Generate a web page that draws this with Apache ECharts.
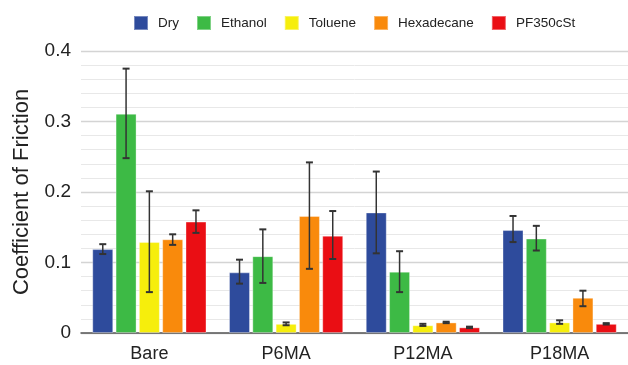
<!DOCTYPE html>
<html>
<head>
<meta charset="utf-8">
<script src="https://cdn.jsdelivr.net/npm/echarts@6/dist/echarts.min.js"></script>
<style>html,body{margin:0;padding:0;background:#fff}#c{width:628px;height:365px}</style>
</head>
<body>
<div id="c"></div>
<script>
const categories = ['Bare', 'P6MA', 'P12MA', 'P18MA'];
const seriesNames = ['Dry', 'Ethanol', 'Toluene', 'Hexadecane', 'PF350cSt'];
const colors = ['#2e4b9c', '#3dba45', '#f6ee0c', '#f98a0c', '#ea0e14'];

const dry        = [0.119, 0.086, 0.171, 0.146];
const ethanol    = [0.311, 0.109, 0.087, 0.134];
const toluene    = [0.129, 0.013, 0.011, 0.015];
const hexadecane = [0.133, 0.166, 0.015, 0.050];
const pf350      = [0.158, 0.138, 0.008, 0.013];

const dryLow        = [0.112, 0.070, 0.113, 0.129];
const dryHigh       = [0.126, 0.104, 0.229, 0.166];
const ethanolLow    = [0.248, 0.071, 0.058, 0.117];
const ethanolHigh   = [0.375, 0.147, 0.116, 0.152];
const tolueneLow    = [0.058, 0.011, 0.010, 0.013];
const tolueneHigh   = [0.201, 0.015, 0.013, 0.018];
const hexadecaneLow = [0.125, 0.091, 0.014, 0.038];
const hexadecaneHigh= [0.140, 0.242, 0.016, 0.060];
const pf350Low      = [0.142, 0.105, 0.007, 0.012];
const pf350High     = [0.174, 0.173, 0.009, 0.014];

const values = [dry, ethanol, toluene, hexadecane, pf350];
const lows = [dryLow, ethanolLow, tolueneLow, hexadecaneLow, pf350Low];
const highs = [dryHigh, ethanolHigh, tolueneHigh, hexadecaneHigh, pf350High];

const BAR_W = 21, PITCH = 23.3;
const font = 'Liberation Sans, Arial, sans-serif';

const errData = [];
values.forEach((v, s) => {
  categories.forEach((c, i) => errData.push([i, s, lows[s][i], highs[s][i]]));
});

const chart = echarts.init(document.getElementById('c'), null, {renderer: 'canvas'});
const series = seriesNames.map((n, s) => ({
  name: n, type: 'bar', data: values[s], barWidth: BAR_W, barGap: '11%',
  itemStyle: {color: colors[s], borderColor: 'rgba(255,255,255,0.35)', borderWidth: 1},
  emphasis: {disabled: true}
}));
series.push({
  type: 'custom', silent: true, z: 10,
  data: errData,
  encode: {x: 0, y: [2, 3]},
  renderItem: function (params, api) {
    const ci = api.value(0), si = api.value(1);
    const lo = api.coord([ci, api.value(2)]);
    const hi = api.coord([ci, api.value(3)]);
    const x = lo[0] + (si - 2) * PITCH;
    const cap = 3.5;
    const st = {stroke: '#333', lineWidth: 1.5};
    return {type: 'group', children: [
      {type: 'line', shape: {x1: x, y1: lo[1], x2: x, y2: hi[1]}, style: st},
      {type: 'line', shape: {x1: x - cap, y1: lo[1], x2: x + cap, y2: lo[1]}, style: {stroke: '#333', lineWidth: 2}},
      {type: 'line', shape: {x1: x - cap, y1: hi[1], x2: x + cap, y2: hi[1]}, style: {stroke: '#333', lineWidth: 2}}
    ]};
  }
});

chart.setOption({
  animation: false,
  textStyle: {fontFamily: font},
  legend: {
    data: seriesNames, left: 128, top: 10, icon: 'rect', itemWidth: 14, itemHeight: 14, itemGap: 17,
    textStyle: {fontSize: 13.5, color: '#222', fontFamily: font, padding: [0, 0, 0, 5]}
  },
  grid: {left: 81, right: 0, top: 51, bottom: 32, containLabel: false},
  xAxis: {
    type: 'category', data: categories,
    axisLine: {lineStyle: {color: '#555', width: 1.5}},
    axisTick: {show: false},
    axisLabel: {fontSize: 18, color: '#222', margin: 12, fontFamily: font}
  },
  yAxis: {
    type: 'value', min: 0, max: 0.4, interval: 0.1,
    name: 'Coefficient of Friction', nameLocation: 'middle', nameGap: 48,
    nameTextStyle: {fontSize: 22, color: '#222', fontFamily: font},
    axisLine: {show: false}, axisTick: {show: false},
    axisLabel: {fontSize: 19, color: '#222', margin: 10, fontFamily: font},
    splitLine: {lineStyle: {color: '#d4d4d4', width: 1.3}},
    minorTick: {show: false, splitNumber: 5},
    minorSplitLine: {show: true, lineStyle: {color: '#e8e8e8', width: 1}}
  },
  series: series
});
</script>
</body>
</html>
